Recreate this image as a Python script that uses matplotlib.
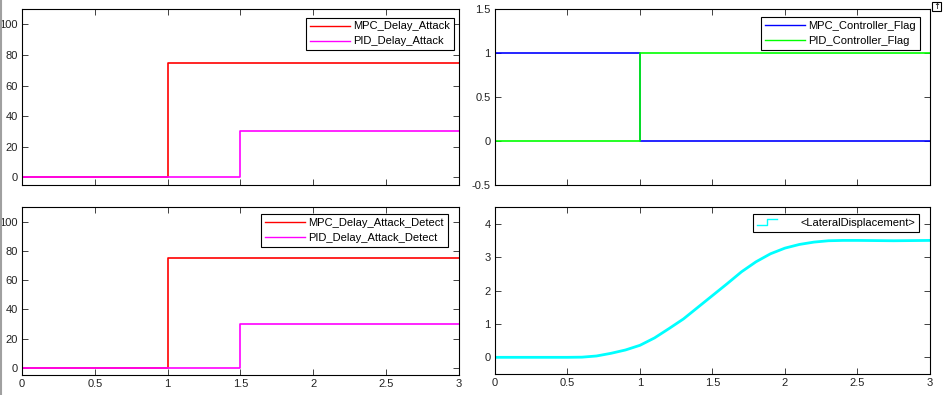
import matplotlib
matplotlib.use("Agg")
import matplotlib.pyplot as plt
from matplotlib.legend_handler import HandlerBase
from matplotlib.lines import Line2D
from matplotlib.patches import Rectangle

plt.rcParams['font.family'] = ['Liberation Sans', 'DejaVu Sans']
plt.rcParams['font.size'] = 8

# step signals (time, value)
t_step_mpc = [0, 1, 3]
mpc_delay = [0, 75, 75]
t_step_pid = [0, 1.5, 3]
pid_delay = [0, 30, 30]
mpc_delay_detect = [0, 75, 75]
pid_delay_detect = [0, 30, 30]

t_flag = [0, 1, 3]
mpc_flag = [1, 0, 0]
pid_flag = [0, 1, 1]

# lateral displacement
t_lat = [0, 0.5, 0.6, 0.7, 0.8, 0.9, 1.0, 1.1, 1.2, 1.3, 1.4, 1.5, 1.6, 1.7,
         1.8, 1.9, 2.0, 2.1, 2.2, 2.3, 2.4, 2.5, 2.75, 3.0]
lat_disp = [0, 0, 0.005, 0.04, 0.12, 0.22, 0.36, 0.58, 0.86, 1.15, 1.5, 1.85,
            2.2, 2.56, 2.86, 3.1, 3.27, 3.38, 3.45, 3.49, 3.5, 3.5, 3.49, 3.5]

xticks = [0, 0.5, 1, 1.5, 2, 2.5, 3]


class StepHandler(HandlerBase):
    def create_artists(self, legend, orig_handle, xdescent, ydescent,
                       width, height, fontsize, trans):
        w = width * 0.5
        xs = [-xdescent, -xdescent + w * 0.5, -xdescent + w * 0.5, -xdescent + w]
        y0 = -ydescent + height * 0.1
        y1 = -ydescent + height * 0.9
        ys = [y0, y0, y1, y1]
        ln = Line2D(xs, ys, color=orig_handle.get_color(), lw=2, transform=trans)
        return [ln]


def style(ax, ylim, yticks, xlabels=True):
    ax.set_xlim(0, 3)
    ax.set_ylim(*ylim)
    ax.set_xticks(xticks)
    ax.set_yticks(yticks)
    ax.set_yticklabels([('%g' % v) for v in yticks])
    if xlabels:
        ax.set_xticklabels([('%g' % v) for v in xticks])
    else:
        ax.set_xticklabels([])
    ax.tick_params(direction='in', top=True, right=True, length=4, width=0.6,
                   labelsize=8, colors='#222222', pad=3)
    for s in ax.spines.values():
        s.set_linewidth(0.8)
        s.set_color('black')


def leg(ax, dx, dy, handler=None):
    # dx, dy: gap in pixels from the axes' upper right corner
    bb = ax.get_window_extent()
    anchor = (1 - dx / bb.width, 1 - dy / bb.height)
    kw = dict(loc='upper right', bbox_to_anchor=anchor, fontsize=8,
              fancybox=False, framealpha=1, edgecolor='black',
              handlelength=3.6, handletextpad=0.3, borderpad=0.35,
              labelspacing=0.45, borderaxespad=0)
    if handler:
        kw['handler_map'] = handler
    lg = ax.legend(**kw)
    lg.get_frame().set_linewidth(0.8)
    for l in lg.get_lines():
        l.set_linewidth(1.0)
    return lg


fig = plt.figure(figsize=(9.43, 3.95), dpi=100)

ax1 = fig.add_axes([0.0233, 0.5316, 0.4634, 0.4456])
ax2 = fig.add_axes([0.5249, 0.5316, 0.4613, 0.4456])
ax3 = fig.add_axes([0.0233, 0.0506, 0.4634, 0.4246])
ax4 = fig.add_axes([0.5249, 0.0531, 0.4613, 0.4228])

ax1.plot(t_step_mpc, mpc_delay, drawstyle='steps-post', color='#ff0000', lw=1.2, label='MPC_Delay_Attack')
ax1.plot(t_step_pid, pid_delay, drawstyle='steps-post', color='#ff00ff', lw=1.2, label='PID_Delay_Attack')
style(ax1, (-5, 110), [0, 20, 40, 60, 80, 100], xlabels=False)
leg(ax1, 5, 8.5)

ax2.plot(t_flag, mpc_flag, drawstyle='steps-post', color='#0000ff', lw=1.2, label='MPC_Controller_Flag')
ax2.plot(t_flag, pid_flag, drawstyle='steps-post', color='#00ff00', lw=1.2, label='PID_Controller_Flag')
style(ax2, (-0.5, 1.5), [-0.5, 0, 0.5, 1, 1.5], xlabels=False)
leg(ax2, 10, 8)

ax3.plot(t_step_mpc, mpc_delay_detect, drawstyle='steps-post', color='#ff0000', lw=1.2, label='MPC_Delay_Attack_Detect')
ax3.plot(t_step_pid, pid_delay_detect, drawstyle='steps-post', color='#ff00ff', lw=1.2, label='PID_Delay_Attack_Detect')
style(ax3, (-5, 110), [0, 20, 40, 60, 80, 100])
leg(ax3, 11, 7)

lat_line, = ax4.plot(t_lat, lat_disp, color='#00ffff', lw=2, label='<LateralDisplacement>')
style(ax4, (-0.5, 4.5), [0, 1, 2, 3, 4])
leg(ax4, 11, 7, handler={lat_line: StepHandler()})

# window border and little undock button of the scope
fig.add_artist(Line2D([0.001, 0.001], [0, 1], color='#a0a0a0', lw=1.5, transform=fig.transFigure))
fig.add_artist(Rectangle((932 / 943, 1 - 11 / 395), 9 / 943, 9 / 395, fill=False,
                         edgecolor='black', lw=0.8, transform=fig.transFigure))
fig.text(936.5 / 943, 1 - 6.5 / 395, '↑', fontsize=6, ha='center', va='center',
         family=['DejaVu Sans'])

fig.savefig('out.png', dpi=100)
